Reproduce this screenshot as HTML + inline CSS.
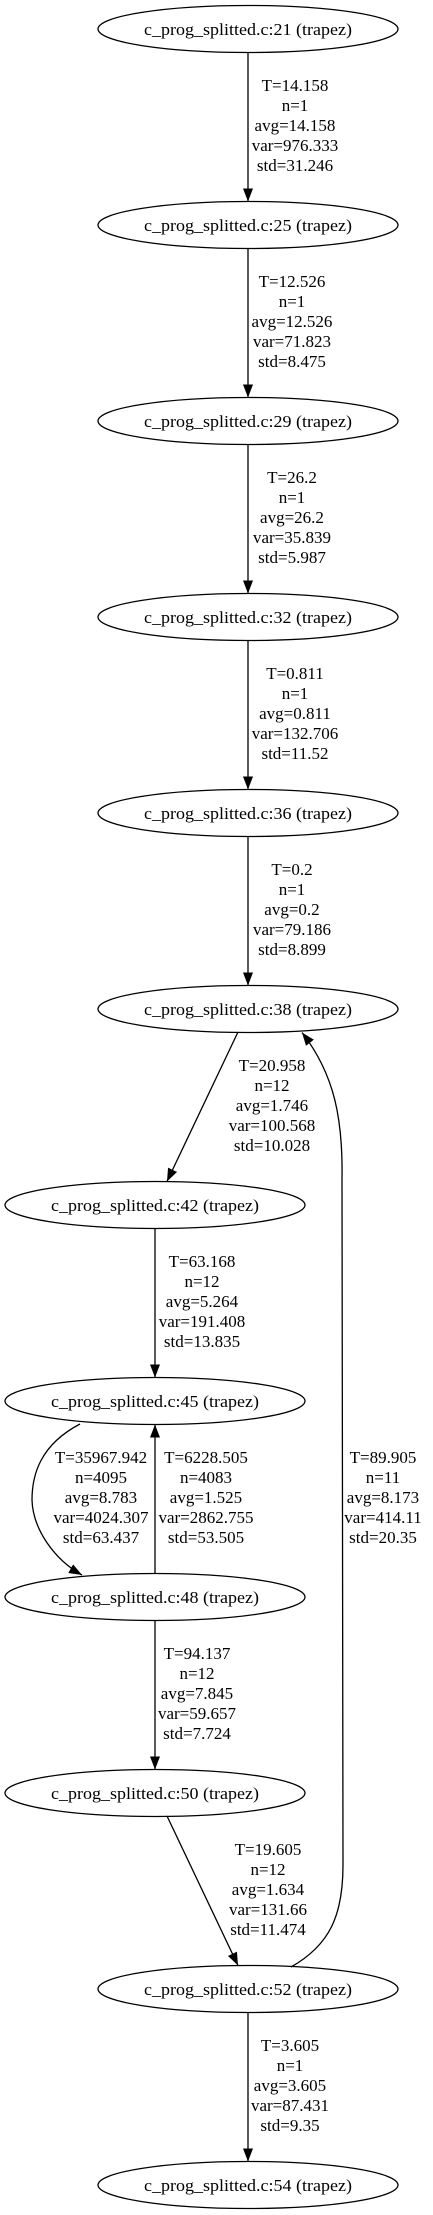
<!DOCTYPE html>
<html><head><meta charset="utf-8"><style>
html,body{margin:0;padding:0;background:#fff;}
svg{display:block;}
text{font-family:"Liberation Serif",serif;font-size:17px;fill:#000;}
</style></head><body>
<svg width="433" height="2215" viewBox="0 0 433 2215" xmlns="http://www.w3.org/2000/svg">
<defs>
<marker id="a" markerUnits="userSpaceOnUse" markerWidth="14" markerHeight="12" refX="13" refY="5" orient="auto">
<path d="M0,0 L13,5 L0,10 Z" fill="#000"/>
</marker>
</defs>
<g fill="none" stroke="#000" stroke-width="1.3">
<ellipse cx="248" cy="29" rx="150" ry="23.5"/>
<ellipse cx="248" cy="225" rx="150" ry="23.5"/>
<ellipse cx="248" cy="421" rx="150" ry="23.5"/>
<ellipse cx="248" cy="617" rx="150" ry="23.5"/>
<ellipse cx="248" cy="813" rx="150" ry="23.5"/>
<ellipse cx="248" cy="1009" rx="150" ry="23.5"/>
<ellipse cx="155" cy="1205" rx="150" ry="23.5"/>
<ellipse cx="155" cy="1401" rx="150" ry="23.5"/>
<ellipse cx="155" cy="1597" rx="150" ry="23.5"/>
<ellipse cx="155" cy="1793" rx="150" ry="23.5"/>
<ellipse cx="248" cy="1989" rx="150" ry="23.5"/>
<ellipse cx="248" cy="2185" rx="150" ry="23.5"/>

<path d="M248,52.5 L248,201.5" marker-end="url(#a)"/>
<path d="M248,248.5 L248,397.5" marker-end="url(#a)"/>
<path d="M248,444.5 L248,593.5" marker-end="url(#a)"/>
<path d="M248,640.5 L248,789.5" marker-end="url(#a)"/>
<path d="M248,836.5 L248,985.5" marker-end="url(#a)"/>
<path d="M238,1032 L167,1181.5" marker-end="url(#a)"/>
<path d="M155,1228.5 L155,1377.5" marker-end="url(#a)"/>
<path d="M80,1424 C40,1445 32,1475 32,1500 C33,1530 55,1560 82,1575" marker-end="url(#a)"/>
<path d="M155,1573.5 L155,1424.5" marker-end="url(#a)"/>
<path d="M155,1620.5 L155,1769.5" marker-end="url(#a)"/>
<path d="M167,1816 L238,1965.5" marker-end="url(#a)"/>
<path d="M291,1967 C330,1945 343,1915 343,1865 L342,1180 C343,1120 335,1075 302,1032.5" marker-end="url(#a)"/>
<path d="M248,2012.5 L248,2161.5" marker-end="url(#a)"/>
</g>

<g text-anchor="middle">
<text x="248" y="35" textLength="208" lengthAdjust="spacingAndGlyphs">c_prog_splitted.c:21 (trapez)</text>
<text x="248" y="231" textLength="208" lengthAdjust="spacingAndGlyphs">c_prog_splitted.c:25 (trapez)</text>
<text x="248" y="427" textLength="208" lengthAdjust="spacingAndGlyphs">c_prog_splitted.c:29 (trapez)</text>
<text x="248" y="623" textLength="208" lengthAdjust="spacingAndGlyphs">c_prog_splitted.c:32 (trapez)</text>
<text x="248" y="819" textLength="208" lengthAdjust="spacingAndGlyphs">c_prog_splitted.c:36 (trapez)</text>
<text x="248" y="1015" textLength="208" lengthAdjust="spacingAndGlyphs">c_prog_splitted.c:38 (trapez)</text>
<text x="155" y="1211" textLength="208" lengthAdjust="spacingAndGlyphs">c_prog_splitted.c:42 (trapez)</text>
<text x="155" y="1407" textLength="208" lengthAdjust="spacingAndGlyphs">c_prog_splitted.c:45 (trapez)</text>
<text x="155" y="1603" textLength="208" lengthAdjust="spacingAndGlyphs">c_prog_splitted.c:48 (trapez)</text>
<text x="155" y="1799" textLength="208" lengthAdjust="spacingAndGlyphs">c_prog_splitted.c:50 (trapez)</text>
<text x="248" y="1995" textLength="208" lengthAdjust="spacingAndGlyphs">c_prog_splitted.c:52 (trapez)</text>
<text x="248" y="2191" textLength="208" lengthAdjust="spacingAndGlyphs">c_prog_splitted.c:54 (trapez)</text>

<text x="295" y="91"><tspan x="295">T=14.158</tspan><tspan x="295" dy="20">n=1</tspan><tspan x="295" dy="20">avg=14.158</tspan><tspan x="295" dy="20">var=976.333</tspan><tspan x="295" dy="20">std=31.246</tspan></text>
<text x="292" y="287"><tspan x="292">T=12.526</tspan><tspan x="292" dy="20">n=1</tspan><tspan x="292" dy="20">avg=12.526</tspan><tspan x="292" dy="20">var=71.823</tspan><tspan x="292" dy="20">std=8.475</tspan></text>
<text x="292" y="483"><tspan x="292">T=26.2</tspan><tspan x="292" dy="20">n=1</tspan><tspan x="292" dy="20">avg=26.2</tspan><tspan x="292" dy="20">var=35.839</tspan><tspan x="292" dy="20">std=5.987</tspan></text>
<text x="295" y="679"><tspan x="295">T=0.811</tspan><tspan x="295" dy="20">n=1</tspan><tspan x="295" dy="20">avg=0.811</tspan><tspan x="295" dy="20">var=132.706</tspan><tspan x="295" dy="20">std=11.52</tspan></text>
<text x="292" y="875"><tspan x="292">T=0.2</tspan><tspan x="292" dy="20">n=1</tspan><tspan x="292" dy="20">avg=0.2</tspan><tspan x="292" dy="20">var=79.186</tspan><tspan x="292" dy="20">std=8.899</tspan></text>
<text x="272" y="1071"><tspan x="272">T=20.958</tspan><tspan x="272" dy="20">n=12</tspan><tspan x="272" dy="20">avg=1.746</tspan><tspan x="272" dy="20">var=100.568</tspan><tspan x="272" dy="20">std=10.028</tspan></text>
<text x="202" y="1267"><tspan x="202">T=63.168</tspan><tspan x="202" dy="20">n=12</tspan><tspan x="202" dy="20">avg=5.264</tspan><tspan x="202" dy="20">var=191.408</tspan><tspan x="202" dy="20">std=13.835</tspan></text>
<text x="101" y="1463"><tspan x="101">T=35967.942</tspan><tspan x="101" dy="20">n=4095</tspan><tspan x="101" dy="20">avg=8.783</tspan><tspan x="101" dy="20">var=4024.307</tspan><tspan x="101" dy="20">std=63.437</tspan></text>
<text x="206" y="1463"><tspan x="206">T=6228.505</tspan><tspan x="206" dy="20">n=4083</tspan><tspan x="206" dy="20">avg=1.525</tspan><tspan x="206" dy="20">var=2862.755</tspan><tspan x="206" dy="20">std=53.505</tspan></text>
<text x="383" y="1463"><tspan x="383">T=89.905</tspan><tspan x="383" dy="20">n=11</tspan><tspan x="383" dy="20">avg=8.173</tspan><tspan x="383" dy="20">var=414.11</tspan><tspan x="383" dy="20">std=20.35</tspan></text>
<text x="197" y="1659"><tspan x="197">T=94.137</tspan><tspan x="197" dy="20">n=12</tspan><tspan x="197" dy="20">avg=7.845</tspan><tspan x="197" dy="20">var=59.657</tspan><tspan x="197" dy="20">std=7.724</tspan></text>
<text x="268" y="1855"><tspan x="268">T=19.605</tspan><tspan x="268" dy="20">n=12</tspan><tspan x="268" dy="20">avg=1.634</tspan><tspan x="268" dy="20">var=131.66</tspan><tspan x="268" dy="20">std=11.474</tspan></text>
<text x="290" y="2051"><tspan x="290">T=3.605</tspan><tspan x="290" dy="20">n=1</tspan><tspan x="290" dy="20">avg=3.605</tspan><tspan x="290" dy="20">var=87.431</tspan><tspan x="290" dy="20">std=9.35</tspan></text>
</g>
</svg>
</body></html>
